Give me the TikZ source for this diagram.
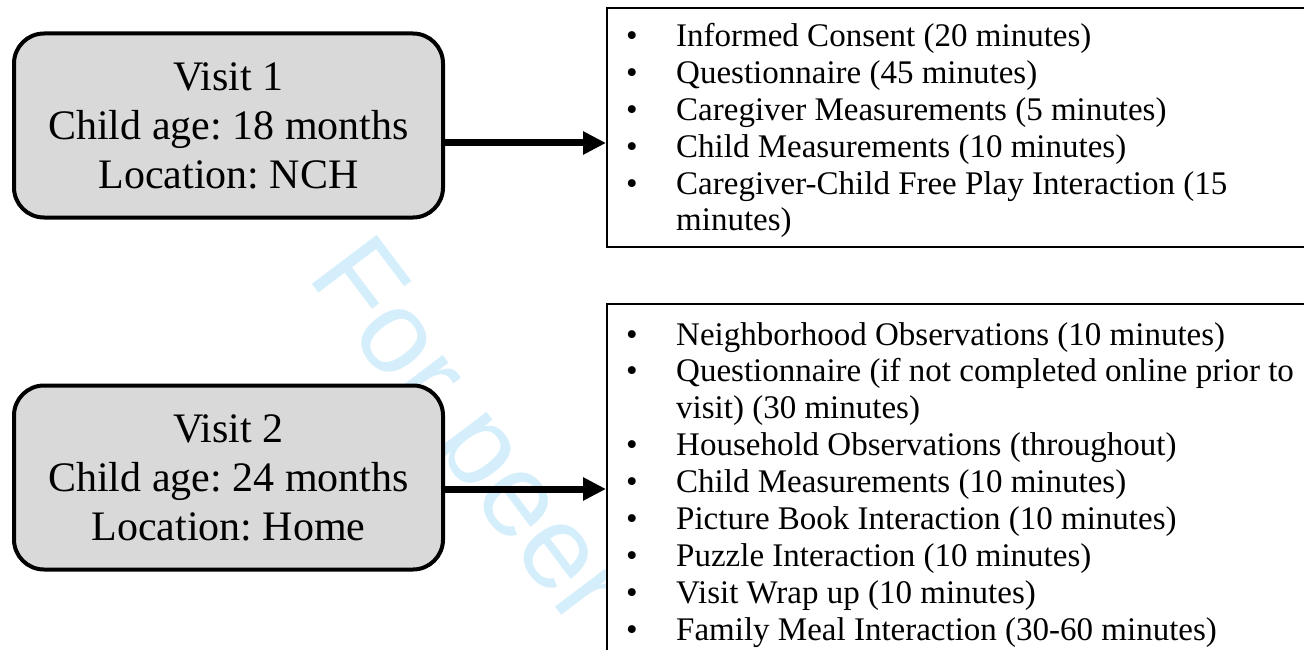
\documentclass[tikz,border=0pt]{standalone}
\usepackage{fontspec}
\setmainfont{Liberation Serif}
\newfontfamily\wmfont{Liberation Sans}
\usetikzlibrary{arrows.meta}
\definecolor{boxgray}{RGB}{217,217,217}
\definecolor{wmblue}{RGB}{212,238,251}
\newcommand\bitem[1]{\hbox{\makebox[47pt][l]{\hspace{-3pt}•}#1}}
\newcommand\bcont[1]{\hbox{\hspace{47pt}#1}}
\frenchspacing
\begin{document}
\begin{tikzpicture}[x=1pt,y=-1pt,
  visit/.style={draw, line width=4pt, fill=boxgray, rounded corners=30pt,
    minimum width=429pt, minimum height=184pt, inner sep=0pt, align=center,
    font=\fontsize{42}{49}\selectfont},
  listbox/.style={draw, line width=2pt, fill=white, inner sep=0pt, anchor=north west},
  conn/.style={line width=7pt, -{Triangle[length=23pt,width=22pt]}},
  items/.style={anchor=base west, inner sep=0pt, font=\fontsize{33}{36.9}\selectfont},
  watermark/.style={anchor=base west, rotate=-53, inner sep=0pt, text=wmblue,
    font=\wmfont\fontsize{118}{118}\selectfont}
]
\useasboundingbox (0,0) rectangle (1304,650);
\clip (0,0) rectangle (1304,650);

\node[watermark] (wm) at (306,276) {For peer};

\node[listbox, minimum width=714pt, minimum height=239pt] (L1) at (606,7) {};
\node[listbox, minimum width=714pt, minimum height=400pt] (L2) at (606,303) {};

\node[visit] (V1) at (228.5,125.5) {Visit 1\\Child age: 18 months\\Location: NCH};
\node[visit] (V2) at (228.5,477.5) {Visit 2\\Child age: 24 months\\Location: Home};

\draw[conn] ([yshift=-17.5pt]V1.east) -- ([yshift=-17.5pt]V1.east -| L1.west);
\draw[conn] ([yshift=-11.5pt]V2.east) -- ([yshift=-11.5pt]V2.east -| L2.west);

\node[items] (T1) at (629,46.5) {\vtop{%
  \bitem{Informed Consent (20 minutes)}
  \bitem{Questionnaire (45 minutes)}
  \bitem{Caregiver Measurements (5 minutes)}
  \bitem{Child Measurements (10 minutes)}
  \bitem{Caregiver-Child Free Play Interaction (15}
  \bcont{minutes)}}};

\node[items] (T2) at (629,345) {\vtop{%
  \bitem{Neighborhood Observations (10 minutes)}
  \bitem{Questionnaire (if not completed online prior to}
  \bcont{visit) (30 minutes)}
  \bitem{Household Observations (throughout)}
  \bitem{Child Measurements (10 minutes)}
  \bitem{Picture Book Interaction (10 minutes)}
  \bitem{Puzzle Interaction (10 minutes)}
  \bitem{Visit Wrap up (10 minutes)}
  \bitem{Family Meal Interaction (30-60 minutes)}}};
\end{tikzpicture}
\end{document}
